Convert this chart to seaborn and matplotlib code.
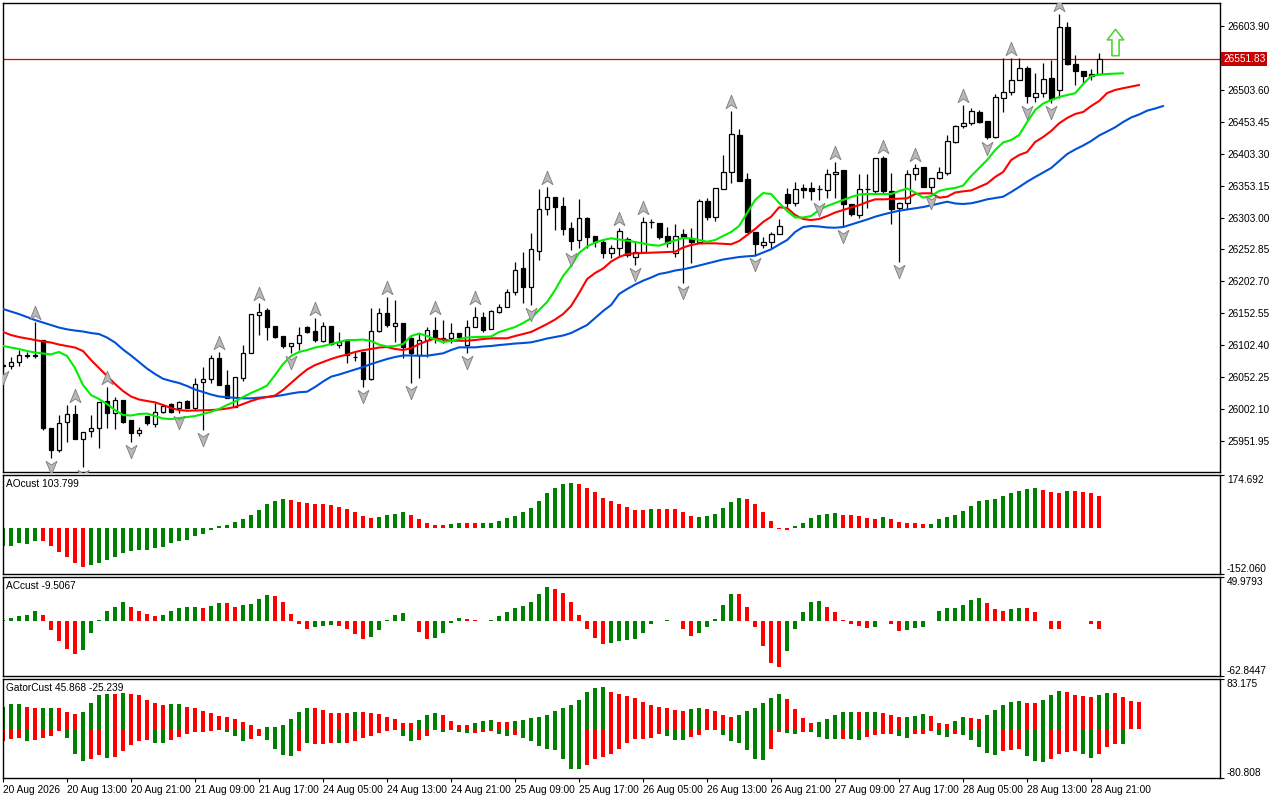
import numpy as np
import matplotlib
matplotlib.use("Agg")
import matplotlib.pyplot as plt
from matplotlib.path import Path
from matplotlib import transforms
import seaborn as sns

# ---------------- data ----------------
open_ = [
 26070.6, 26070.2, 26075.6, 26087.0, 26085.5, 26110.6, 25971.9, 25937.8, 25981.8, 25994.4,
 25955.1, 25967.7, 25972.4, 26014.8, 25995.9, 26016.4, 25985.0, 25964.5, 25991.7, 25978.6,
 25998.0, 26009.6, 26003.8, 26014.8, 26004.3, 26044.6, 26048.9, 26081.9, 26039.9, 26005.8,
 26050.4, 26090.7, 26149.9, 26157.7, 26132.6, 26116.9, 26101.2, 26106.4, 26131.5, 26124.7,
 26109.5, 26132.6, 26102.7, 26110.6, 26083.4, 26092.3, 26048.9, 26125.2, 26152.6, 26132.6,
 26137.8, 26113.3, 26087.0, 26110.6, 26126.3, 26113.8, 26113.3, 26121.1, 26102.7, 26130.6,
 26147.2, 26127.4, 26155.1, 26163.0, 26185.5, 26223.2, 26194.3, 26250.9, 26316.4, 26334.8,
 26321.1, 26286.1, 26267.7, 26301.8, 26274.0, 26265.0, 26246.8, 26254.7, 26268.8, 26241.5,
 26249.3, 26295.5, 26293.9, 26274.0, 26246.8, 26276.7, 26271.3, 26265.0, 26329.0, 26304.3,
 26347.4, 26374.1, 26432.7, 26363.5, 26280.7, 26259.9, 26265.0, 26277.1, 26339.5, 26326.3,
 26349.9, 26349.9, 26347.1, 26346.3, 26371.4, 26377.7, 26324.3, 26307.0, 26347.4, 26345.2,
 26396.0, 26345.2, 26317.5, 26325.4, 26371.4, 26381.9, 26351.5, 26364.6, 26373.4, 26422.1,
 26446.8, 26451.0, 26468.3, 26454.7, 26430.0, 26491.3, 26499.7, 26519.1, 26537.5, 26491.9,
 26499.1, 26521.7, 26503.4, 26602.8, 26543.7, 26533.7, 26528.0, 26528.5]
high = [
 26074.5, 26083.9, 26094.9, 26092.3, 26139.4, 26110.6, 25971.9, 25992.8, 26008.5, 26008.5,
 25966.6, 25992.8, 26013.2, 26037.2, 26021.1, 26016.4, 25985.0, 25974.4, 25991.7, 26011.6,
 26009.6, 26011.6, 26014.8, 26016.4, 26050.4, 26068.7, 26087.0, 26091.8, 26063.5, 26052.0,
 26102.7, 26151.0, 26168.3, 26160.4, 26132.6, 26116.9, 26106.4, 26131.5, 26132.6, 26144.7,
 26139.4, 26132.6, 26123.7, 26110.6, 26092.3, 26092.3, 26160.4, 26160.4, 26178.6, 26173.5,
 26137.8, 26115.8, 26121.1, 26131.5, 26147.2, 26142.0, 26137.8, 26122.1, 26142.0, 26162.0,
 26155.1, 26157.7, 26167.2, 26190.7, 26233.6, 26249.3, 26278.2, 26347.8, 26351.5, 26335.7,
 26334.8, 26296.5, 26332.1, 26304.3, 26274.0, 26268.8, 26259.9, 26287.0, 26272.9, 26265.0,
 26304.3, 26300.2, 26294.9, 26288.6, 26292.4, 26285.0, 26286.1, 26332.1, 26333.2, 26348.9,
 26401.2, 26470.8, 26441.6, 26372.5, 26280.7, 26272.9, 26280.7, 26300.2, 26349.9, 26359.3,
 26355.7, 26359.3, 26354.1, 26378.8, 26389.8, 26377.7, 26324.3, 26371.4, 26371.4, 26396.0,
 26399.7, 26372.5, 26327.9, 26377.7, 26387.1, 26381.9, 26364.6, 26382.9, 26432.7, 26448.4,
 26479.8, 26474.6, 26472.0, 26454.7, 26496.6, 26553.2, 26553.2, 26553.2, 26541.1, 26529.6,
 26546.2, 26550.5, 26622.8, 26610.7, 26558.3, 26533.7, 26535.9, 26562.0]
low = [
 26066.6, 26065.1, 26069.8, 26081.9, 26082.3, 25969.2, 25925.3, 25935.2, 25950.8, 25954.6,
 25911.6, 25958.7, 25941.0, 25971.9, 25970.8, 25980.2, 25950.8, 25960.3, 25977.1, 25974.4,
 25995.5, 25995.5, 25995.5, 26003.3, 26000.6, 25969.2, 26043.5, 26039.9, 26019.0, 26005.8,
 26046.2, 26089.7, 26118.5, 26110.6, 26113.3, 26097.6, 26089.7, 26094.9, 26121.1, 26107.9,
 26107.9, 26102.7, 26097.6, 26074.0, 26078.1, 26037.2, 26047.8, 26123.7, 26131.5, 26107.9,
 26081.9, 26042.6, 26050.4, 26084.4, 26105.4, 26105.4, 26105.4, 26113.3, 26089.7, 26130.6,
 26123.7, 26127.4, 26152.6, 26162.0, 26181.3, 26168.3, 26165.6, 26236.3, 26307.0, 26283.4,
 26275.6, 26252.0, 26254.7, 26254.7, 26257.2, 26239.0, 26239.0, 26243.0, 26241.5, 26228.4,
 26249.3, 26286.1, 26268.8, 26257.2, 26240.5, 26199.7, 26232.1, 26265.0, 26299.1, 26298.0,
 26347.4, 26356.8, 26360.9, 26280.7, 26244.1, 26254.7, 26254.7, 26277.1, 26320.0, 26321.1,
 26333.2, 26330.6, 26330.6, 26333.2, 26333.2, 26288.6, 26305.4, 26301.8, 26317.5, 26341.1,
 26341.1, 26292.8, 26233.6, 26315.9, 26362.0, 26351.5, 26342.0, 26363.1, 26369.8, 26420.6,
 26443.2, 26448.4, 26452.0, 26425.9, 26427.5, 26469.3, 26495.5, 26519.1, 26482.5, 26485.0,
 26492.8, 26482.5, 26490.3, 26542.2, 26511.2, 26514.8, 26519.1, 26528.5]
close = [
 26069.8, 26075.6, 26087.0, 26085.5, 26087.0, 25971.9, 25937.8, 25980.7, 25994.4, 25955.1,
 25966.6, 25972.4, 26013.2, 25995.9, 26016.4, 25982.3, 25964.5, 25969.2, 25979.7, 25998.0,
 26006.9, 25998.0, 26013.2, 26004.3, 26041.0, 26049.3, 26081.9, 26039.9, 26019.0, 26052.0,
 26089.7, 26151.0, 26155.1, 26131.5, 26115.8, 26101.2, 26106.4, 26118.5, 26123.7, 26110.6,
 26132.6, 26104.3, 26107.9, 26087.0, 26083.4, 26048.9, 26125.2, 26152.6, 26134.2, 26136.8,
 26099.1, 26089.7, 26110.6, 26126.3, 26113.3, 26113.0, 26121.1, 26115.8, 26130.6, 26147.2,
 26126.3, 26156.2, 26163.0, 26185.5, 26220.6, 26194.3, 26253.1, 26316.4, 26335.7, 26320.0,
 26284.5, 26266.6, 26301.8, 26272.9, 26265.0, 26246.8, 26254.7, 26281.8, 26244.1, 26248.4,
 26295.5, 26295.4, 26272.9, 26263.5, 26274.0, 26272.0, 26265.0, 26329.0, 26304.3, 26348.9,
 26374.1, 26434.2, 26360.9, 26280.7, 26261.0, 26265.0, 26277.1, 26289.7, 26326.3, 26347.4,
 26346.3, 26345.2, 26347.4, 26370.9, 26375.0, 26324.3, 26308.6, 26347.4, 26347.3, 26396.0,
 26345.2, 26315.9, 26325.4, 26371.4, 26380.4, 26351.5, 26364.6, 26375.0, 26423.2, 26446.8,
 26451.0, 26470.4, 26453.6, 26430.0, 26491.9, 26499.7, 26519.1, 26537.5, 26494.4, 26498.2,
 26520.2, 26488.7, 26602.8, 26543.7, 26533.7, 26525.8, 26525.3, 26551.83]

# Alligator lines (jaw blue, teeth red, lips green), extending past the last bar
jaw = [
 26159.3, 26155.4, 26151.4, 26146.7, 26142.0, 26138.1, 26134.2, 26130.2, 26127.4, 26125.5,
 26124.0, 26121.6, 26120.0, 26114.5, 26106.7, 26095.7, 26086.3, 26076.1, 26065.8, 26057.2,
 26049.8, 26046.2, 26043.1, 26038.4, 26032.9, 26028.9, 26025.0, 26021.9, 26020.8, 26019.8,
 26019.0, 26019.0, 26020.0, 26021.1, 26022.3, 26024.2, 26026.6, 26028.6, 26029.4, 26036.8,
 26045.4, 26053.0, 26056.4, 26060.3, 26064.3, 26068.2, 26072.9, 26076.8, 26080.8, 26083.9,
 26086.3, 26086.3, 26085.9, 26085.9, 26087.8, 26089.7, 26094.9, 26099.1, 26099.1, 26099.1,
 26100.4, 26101.2, 26102.7, 26103.8, 26105.1, 26105.9, 26107.0, 26109.8, 26113.0, 26115.3,
 26117.7, 26121.6, 26127.9, 26134.2, 26145.2, 26156.2, 26165.6, 26182.9, 26190.7, 26197.8,
 26203.8, 26208.8, 26214.3, 26216.6, 26219.8, 26221.7, 26224.5, 26227.7, 26230.8, 26233.9,
 26237.1, 26239.0, 26241.0, 26242.1, 26243.0, 26248.1, 26253.1, 26260.6, 26267.7, 26280.3,
 26288.1, 26289.7, 26288.9, 26287.4, 26287.0, 26288.1, 26292.1, 26296.0, 26299.9, 26304.3,
 26307.8, 26310.9, 26313.7, 26315.6, 26317.5, 26319.5, 26322.2, 26325.1, 26327.9, 26325.1,
 26324.3, 26325.4, 26328.2, 26331.6, 26333.7, 26335.7, 26343.1, 26351.0, 26359.3, 26366.7,
 26373.8, 26380.8, 26391.8, 26402.8, 26409.9, 26416.2, 26423.2, 26431.9, 26438.2, 26444.8,
 26453.1, 26460.2, 26464.9, 26470.9, 26474.3, 26478.2]
teeth = [
 26123.2, 26118.5, 26115.3, 26113.0, 26110.6, 26108.3, 26106.7, 26103.5, 26101.2, 26098.8,
 26093.3, 26079.2, 26066.6, 26054.1, 26041.5, 26030.5, 26021.9, 26017.2, 26014.8, 26012.7,
 26008.5, 26003.8, 26000.6, 25999.5, 25999.9, 26000.3, 26000.6, 26001.4, 26003.0, 26005.4,
 26010.1, 26014.8, 26018.7, 26021.1, 26023.4, 26032.1, 26043.1, 26054.1, 26064.3, 26071.3,
 26076.1, 26080.8, 26084.7, 26087.8, 26091.8, 26094.6, 26096.5, 26098.8, 26099.6, 26096.5,
 26094.9, 26097.6, 26104.3, 26109.0, 26113.0, 26111.4, 26109.5, 26109.5, 26109.5, 26110.6,
 26112.2, 26113.3, 26113.3, 26113.3, 26116.9, 26120.0, 26123.2, 26129.5, 26135.7, 26142.8,
 26151.4, 26164.0, 26184.4, 26206.4, 26215.9, 26222.9, 26233.9, 26241.0, 26245.7, 26246.8,
 26247.3, 26247.7, 26248.4, 26248.8, 26249.3, 26255.9, 26259.9, 26262.2, 26262.5, 26262.5,
 26261.7, 26261.0, 26266.1, 26275.6, 26285.0, 26296.0, 26304.3, 26319.1, 26318.0, 26307.0,
 26300.7, 26299.1, 26300.7, 26305.4, 26310.9, 26314.9, 26318.8, 26322.4, 26327.4, 26331.6,
 26331.6, 26332.1, 26332.6, 26333.2, 26340.0, 26341.1, 26341.1, 26334.2, 26335.7, 26342.3,
 26344.2, 26345.5, 26351.0, 26356.5, 26366.7, 26374.6, 26393.4, 26401.2, 26406.0, 26421.7,
 26429.5, 26439.0, 26451.0, 26459.4, 26465.7, 26468.8, 26478.2, 26486.1, 26498.6, 26503.4,
 26506.2, 26508.7, 26511.2]
lips = [
 26101.2, 26098.8, 26096.5, 26093.3, 26091.0, 26089.4, 26088.1, 26091.8, 26085.5, 26066.6,
 26039.9, 26024.2, 26017.9, 26010.1, 26000.6, 25992.8, 25992.0, 25994.4, 25995.1, 25991.2,
 25987.3, 25986.5, 25988.1, 25989.6, 25991.2, 25994.4, 25998.0, 26002.2, 26008.5, 26014.0,
 26021.1, 26027.4, 26032.9, 26039.1, 26055.6, 26072.9, 26085.5, 26091.8, 26094.9, 26098.8,
 26101.2, 26104.3, 26107.5, 26110.6, 26110.6, 26111.4, 26109.0, 26103.5, 26100.4, 26101.2,
 26104.3, 26116.9, 26120.8, 26116.9, 26111.4, 26107.5, 26109.0, 26112.2, 26114.5, 26115.3,
 26115.6, 26116.1, 26123.2, 26127.1, 26131.0, 26137.3, 26144.7, 26157.7, 26170.3, 26189.2,
 26211.2, 26226.9, 26247.3, 26257.5, 26263.8, 26267.7, 26270.4, 26268.5, 26266.9, 26264.6,
 26262.2, 26259.9, 26258.8, 26263.0, 26266.9, 26270.9, 26270.1, 26267.7, 26265.0, 26267.7,
 26274.0, 26280.3, 26289.7, 26310.1, 26330.6, 26341.5, 26340.0, 26325.9, 26313.3, 26303.1,
 26303.1, 26305.4, 26314.9, 26321.1, 26325.9, 26330.6, 26335.3, 26339.2, 26340.0, 26340.0,
 26340.0, 26340.0, 26344.7, 26348.6, 26342.3, 26334.2, 26336.8, 26344.7, 26347.8, 26349.4,
 26353.3, 26368.2, 26380.8, 26393.4, 26409.1, 26420.9, 26424.8, 26432.7, 26453.1, 26471.9,
 26482.1, 26487.6, 26492.4, 26495.5, 26498.2, 26512.8, 26525.4, 26527.4, 26528.5, 26529.1,
 26529.6]

# Fractals (bar indices)
fractal_up = [4, 9, 13, 27, 32, 39, 48, 54, 59, 68, 77, 80, 91, 104, 110, 114, 120, 126, 132]
fractal_down = [0, 6, 10, 16, 22, 25, 36, 45, 51, 58, 66, 71, 79, 85, 94, 102, 105, 112, 116,
                123, 128, 131]

# Awesome oscillator
ao = [
 -60.9, -58.7, -50.8, -53.0, -41.7, -41.9, -58.7, -79.0, -94.8, -115.1,
 -129.7, -123.0, -115.1, -106.0, -95.9, -81.2, -75.6, -73.3, -72.2, -67.7,
 -62.0, -50.8, -44.0, -38.4, -28.2, -20.3, -7.9, 5.6, 11.3, 20.3,
 29.3, 42.9, 59.8, 77.8, 90.2, 97.0, 93.6, 86.9, 81.2, 80.5,
 77.8, 77.2, 69.9, 62.0, 53.0, 40.6, 32.7, 36.1, 42.9, 46.2,
 54.1, 42.9, 29.3, 15.8, 9.0, 8.6, 12.4, 15.8, 15.5, 15.2,
 15.6, 16.0, 22.6, 32.7, 39.5, 53.0, 66.6, 90.2, 113.9, 130.8,
 144.4, 147.8, 144.4, 130.8, 117.3, 100.4, 90.2, 80.1, 69.9, 59.8,
 59.5, 63.2, 63.0, 62.8, 62.6, 53.0, 39.5, 36.1, 39.5, 46.2,
 66.6, 86.9, 100.4, 97.0, 80.1, 53.0, 22.6, -3.4, -6.8, 5.6,
 15.8, 32.7, 42.9, 46.2, 49.6, 42.9, 42.6, 39.5, 32.7, 29.3,
 36.1, 29.3, 19.2, 15.8, 15.5, 12.4, 12.6, 29.3, 36.1, 42.9,
 56.4, 73.3, 90.2, 93.6, 97.0, 103.8, 113.9, 120.7, 127.5, 130.8,
 124.1, 117.3, 113.9, 120.7, 120.4, 117.3, 113.9, 103.799]
ao_dir = ("GGGGG" "RRRRRR" "GGGGGGGGGGGGGGGGGGGGGGGGG" "RRRRRRRRRRR" "GGGG" "RRRRR"
          "GG" "RR" "GGGGGGGGGGGG" "RRRRRRRRR" "G" "RRRRR" "GGGGGG" "RRRRRR" "GGGGGG"
          "RRRRR" "G" "RRRRR" "GGGGGGGGGGGGGG" "RRR" "G" "RRRR")

# Accelerator oscillator
ac = [
 0.7, 3.3, 5.6, 6.3, 11.8, 6.3, -10.4, -23.3, -32.6, -38.1,
 -33.7, -14.1, 1.1, 11.8, 15.5, 21.1, 16.3, 11.8, 7.4, 5.2,
 6.3, 10.7, 14.4, 15.5, 16.3, 14.4, 17.4, 20.7, 20.0, 16.3,
 18.1, 19.2, 24.4, 29.6, 28.5, 21.8, 7.4, -3.3, -8.9, -6.7,
 -5.9, -4.8, -5.6, -9.3, -14.8, -20.4, -18.9, -10.4, 0.7, 6.3,
 8.9, -0.7, -12.2, -20.4, -20.0, -13.3, -2.2, 3.0, 1.9, 0.7,
 -0.4, 0.7, 5.2, 9.6, 14.1, 17.4, 21.8, 30.7, 38.5, 36.3,
 31.8, 21.8, 6.3, -8.9, -19.2, -25.9, -24.8, -22.6, -22.2, -20.4,
 -13.3, -3.3, -0.4, 0.7, -0.7, -8.9, -16.7, -13.3, -6.7, 1.9,
 18.5, 30.7, 30.3, 16.3, -6.7, -28.9, -47.7, -52.2, -34.4, -8.9,
 9.6, 21.8, 22.9, 16.3, 9.6, 0.7, -3.3, -5.6, -7.8, -6.7,
 -0.4, -3.3, -11.1, -10.0, -7.8, -6.7, 0.2, 10.7, 14.1, 14.4,
 18.5, 24.1, 26.3, 20.7, 13.0, 10.7, 13.0, 15.2, 14.1, 9.6,
 -0.7, -8.9, -9.3, -0.4, -0.2, -0.4, -3.3, -9.5067]
ac_dir = ("GGGGG" "RRRRR" "GGGGGG" "RRRR" "GGGGG" "R" "GG" "RR" "GGGG" "RRRRR" "GGG"
          "RRRR" "GGGGG" "RRR" "GGGG" "RRR" "GGGGGGGG" "RRRRRRR" "GGGGGGGG" "RRR" "GGGGG"
          "RRRRRR" "GGGGG" "RRRRRR" "GG" "RR" "GGGGGGGGGG" "RRR" "GG" "RRRRR" "GG" "RRR")

# Gator oscillator
gator_upper = [
 37.1, 41.0, 41.0, 37.1, 35.5, 35.5, 35.5, 34.4, 28.9, 24.6,
 27.8, 42.6, 57.3, 59.0, 59.0, 60.6, 59.0, 56.2, 49.1, 42.6,
 39.3, 41.0, 41.0, 37.1, 34.4, 29.5, 26.8, 22.4, 20.7, 16.4,
 12.6, 6.6, 0.5, 3.3, 3.3, 6.6, 16.4, 28.9, 34.4, 34.4,
 31.1, 26.8, 26.8, 26.8, 27.8, 27.8, 26.2, 24.6, 19.7, 16.4,
 10.9, 10.9, 14.7, 22.9, 26.2, 22.9, 13.1, 6.6, 6.6, 9.8,
 13.1, 14.7, 11.5, 11.5, 13.1, 14.7, 18.0, 19.7, 22.9, 29.5,
 34.4, 39.9, 49.1, 62.2, 68.8, 69.3, 62.2, 59.0, 55.7, 52.4,
 45.9, 39.3, 36.0, 34.4, 31.1, 30.6, 32.8, 34.4, 32.8, 29.5,
 22.9, 19.7, 22.9, 29.5, 34.4, 42.6, 52.4, 59.0, 50.8, 32.8,
 18.0, 9.8, 11.5, 16.4, 22.9, 27.8, 28.4, 27.8, 28.4, 28.9,
 26.2, 22.9, 19.7, 20.2, 21.3, 24.6, 21.3, 9.8, 8.2, 13.1,
 19.7, 18.0, 17.5, 22.9, 31.1, 39.3, 45.9, 47.5, 44.2, 43.7,
 49.1, 57.3, 63.9, 62.2, 57.3, 55.7, 54.1, 57.3, 60.6, 60.1,
 54.1, 47.5, 45.868]
gator_upper_dir = ("GGG" "RR" "GG" "RRR" "GGGG" "R" "G" "RRRRR" "GG" "RRRRRRRRRR" "GGGGGG"
                   "RRRRR" "G" "RRRRRRR" "GGG" "RRRR" "GGG" "RR" "GGGGGGGGGGGG" "RRRRRRRRRR"
                   "GG" "RRRR" "GGGGGG" "RRRR" "GGGGG" "R" "GG" "RRR" "GGG" "RRR" "GG" "RR"
                   "GGGGG" "RR" "GGG" "RRRR" "GG" "RRRR")
gator_lower = [
 -20.2, -16.4, -14.7, -19.1, -18.0, -14.7, -10.9, -2.7, -14.7, -40.4,
 -51.9, -49.1, -42.0, -47.5, -45.9, -35.5, -25.7, -19.1, -18.0, -22.9,
 -22.9, -18.0, -13.1, -8.2, -4.9, -3.8, -2.2, -1.6, -4.9, -10.9,
 -19.7, -15.8, -11.5, -18.0, -32.8, -42.0, -43.7, -36.6, -23.5, -24.6,
 -24.6, -23.5, -23.5, -23.5, -20.2, -14.7, -10.9, -6.6, -2.2, -1.6,
 -10.9, -19.1, -18.6, -10.9, -1.6, -4.4, -1.6, -4.4, -6.0, -5.5,
 -4.4, -2.7, -7.6, -10.9, -10.4, -14.2, -19.1, -27.3, -32.8, -34.4,
 -49.1, -65.5, -66.1, -59.0, -49.1, -45.3, -41.0, -32.8, -22.4, -16.4,
 -15.8, -14.7, -8.2, -10.9, -17.5, -18.0, -12.6, -9.3, -1.1, -0.5,
 -9.3, -19.1, -22.4, -34.4, -49.1, -50.8, -32.8, -4.4, -6.0, -8.2,
 -4.4, -4.9, -12.6, -15.8, -16.4, -15.8, -16.4, -17.5, -12.6, -9.3,
 -7.6, -7.1, -10.9, -14.2, -7.6, -7.1, -2.7, -9.3, -12.6, -7.6,
 -9.3, -17.5, -28.9, -38.8, -42.0, -35.5, -33.9, -33.3, -43.7, -51.9,
 -53.5, -49.1, -41.0, -37.1, -35.5, -41.0, -47.0, -41.0, -28.9, -24.0,
 -25.239]
gator_lower_dir = ("RRR" "G" "RRRR" "GGG" "RR" "G" "RRRRR" "GG" "RRRRRR" "GGGG" "RR" "GGGG"
                   "R" "G" "RRR" "G" "RRRRRRR" "GG" "RRR" "G" "R" "GG" "RRR" "GG" "R"
                   "GGGGGGGG" "RRRRRRRRRR" "GGG" "RRRR" "GGGGGG" "RR" "GG" "R" "GGGG" "R" "GG"
                   "RRRR" "GG" "RRR" "GG" "R" "GGGGG" "RRR" "GGG" "RRRR" "GG" "RRR" "G")

price_ticks = [26603.90, 26503.60, 26453.45, 26403.30, 26353.15, 26303.00, 26252.85,
               26202.70, 26152.55, 26102.40, 26052.25, 26002.10, 25951.95]
current_price = 26551.83
signal_bar = 139
signal_price = 26578.8
time_labels = ["20 Aug 2026", "20 Aug 13:00", "20 Aug 21:00", "21 Aug 09:00", "21 Aug 17:00",
               "24 Aug 05:00", "24 Aug 13:00", "24 Aug 21:00", "25 Aug 09:00", "25 Aug 17:00",
               "26 Aug 05:00", "26 Aug 13:00", "26 Aug 21:00", "27 Aug 09:00", "27 Aug 17:00",
               "28 Aug 05:00", "28 Aug 13:00", "28 Aug 21:00"]
time_label_bars = [0, 8, 16, 24, 32, 40, 48, 56, 64, 72, 80, 88, 96, 104, 112, 120, 128, 136]
ao_limits = (-152.060, 174.692)
ac_limits = (-62.8447, 49.9793)
gator_limits = (-80.808, 83.175)
main_limits = (25903.3, 26640.0)

# ---------------- style ----------------
sns.set_theme(style="white")
plt.rcParams["font.family"] = ["Liberation Sans", "DejaVu Sans"]
FS = 7.3
GREEN_H = "#008000"
RED_H = "#ff0000"

W, H = 1280, 800
fig = plt.figure(figsize=(W / 100, H / 100), dpi=100)
fig.patch.set_facecolor("white")

def rect(top, bottom, left=3, right=1220):
    return [left / W, 1 - bottom / H, (right - left) / W, (bottom - top) / H]

ax = fig.add_axes(rect(3, 472))
ax_ao = fig.add_axes(rect(475, 574), sharex=ax)
ax_ac = fig.add_axes(rect(577, 676), sharex=ax)
ax_g = fig.add_axes(rect(679, 778), sharex=ax)

for a in (ax, ax_ao, ax_ac, ax_g):
    a.set_facecolor("white")
    for s in a.spines.values():
        s.set_color("black")
        s.set_linewidth(1.0)
    a.grid(False)
    a.yaxis.tick_right()
    a.tick_params(axis="y", which="both", direction="out", length=3, width=0.8,
                  labelsize=FS, pad=2, colors="black", left=False, right=True)
    a.tick_params(axis="x", which="both", bottom=False, labelbottom=False)

# ---------------- main candles ----------------
o = np.array(open_); h = np.array(high); l = np.array(low); c = np.array(close)
xb = np.arange(len(o))
bull = c >= o
ax.vlines(xb, l, h, color="black", linewidth=0.9, zorder=2)
ax.bar(xb, np.abs(c - o), bottom=np.minimum(o, c), width=0.6,
       color=np.where(bull, "white", "black"), edgecolor="black", linewidth=0.9, zorder=3)

# Alligator lines
sns.lineplot(x=np.arange(len(jaw)), y=jaw, ax=ax, color="#0050d8", linewidth=1.5, zorder=4)
sns.lineplot(x=np.arange(len(teeth)), y=teeth, ax=ax, color="#ff0000", linewidth=1.5, zorder=4)
sns.lineplot(x=np.arange(len(lips)), y=lips, ax=ax, color="#00ee00", linewidth=1.5, zorder=4)

# Fractal arrows
up_path = Path([(0, 1), (0.75, -0.85), (0, -0.35), (-0.75, -0.85), (0, 1)],
               [Path.MOVETO, Path.LINETO, Path.LINETO, Path.LINETO, Path.CLOSEPOLY])
dn_path = Path([(0, -1), (0.75, 0.85), (0, 0.35), (-0.75, 0.85), (0, -1)],
               [Path.MOVETO, Path.LINETO, Path.LINETO, Path.LINETO, Path.CLOSEPOLY])
tr_up = transforms.offset_copy(ax.transData, fig=fig, x=0, y=9, units="dots")
tr_dn = transforms.offset_copy(ax.transData, fig=fig, x=0, y=-9, units="dots")
ax.plot(fractal_up, h[fractal_up], linestyle="none", marker=up_path, markersize=10.5,
        markerfacecolor="#b8b8b8", markeredgecolor="#7c7c7c", markeredgewidth=0.6,
        transform=tr_up, zorder=5)
ax.plot(fractal_down, l[fractal_down], linestyle="none", marker=dn_path, markersize=10.5,
        markerfacecolor="#b8b8b8", markeredgecolor="#7c7c7c", markeredgewidth=0.6,
        transform=tr_dn, zorder=5)

# Signal arrow
sig_path = Path([(0, 1), (0.62, 0.2), (0.27, 0.2), (0.27, -1), (-0.27, -1), (-0.27, 0.2),
                 (-0.62, 0.2), (0, 1)],
                [Path.MOVETO] + [Path.LINETO] * 6 + [Path.CLOSEPOLY])
ax.plot([signal_bar], [signal_price], linestyle="none", marker=sig_path, markersize=19,
        markerfacecolor="white", markeredgecolor="#55d43a", markeredgewidth=1.2, zorder=5)

# Current price line and label
ax.axhline(current_price, color="#e00000", linewidth=0.9, zorder=1)
blend = transforms.blended_transform_factory(ax.transAxes, ax.transData)
ax.text(1.0025, current_price, f"{current_price:.2f}", transform=blend, ha="left",
        va="center", fontsize=FS, color="white", zorder=6, clip_on=False,
        bbox=dict(boxstyle="square,pad=0.2", facecolor="#c80000", edgecolor="none"))

ax.set_xlim(0, 152.1)
ax.set_ylim(*main_limits)
ax.set_yticks(price_ticks)
ax.set_yticklabels([f"{v:.2f}" for v in price_ticks])
ax.set_xlabel(""); ax.set_ylabel("")

# ---------------- oscillators ----------------
def colors_from(d):
    return [GREEN_H if ch == "G" else RED_H for ch in d]

ax_ao.bar(np.arange(len(ao)), ao, width=0.55, color=colors_from(ao_dir), linewidth=0)
ax_ac.bar(np.arange(len(ac)), ac, width=0.55, color=colors_from(ac_dir), linewidth=0)
ax_g.bar(np.arange(len(gator_upper)), gator_upper, width=0.55,
         color=colors_from(gator_upper_dir), linewidth=0)
ax_g.bar(np.arange(len(gator_lower)), gator_lower, width=0.55,
         color=colors_from(gator_lower_dir), linewidth=0)

for a, lim, fmt, title in ((ax_ao, ao_limits, "{:.3f}", f"AOcust {ao[-1]:.3f}"),
                           (ax_ac, ac_limits, "{:.4f}", f"ACcust {ac[-1]:.4f}"),
                           (ax_g, gator_limits, "{:.3f}",
                            f"GatorCust {gator_upper[-1]:.3f} {gator_lower[-1]:.3f}")):
    a.set_ylim(*lim)
    a.set_yticks([lim[0], lim[1]])
    labs = a.set_yticklabels([fmt.format(lim[0]), fmt.format(lim[1])])
    labs[0].set_verticalalignment("bottom")
    labs[1].set_verticalalignment("top")
    a.text(0.0025, 0.955, title, transform=a.transAxes, ha="left", va="top",
           fontsize=FS, color="black")
    a.set_xlabel(""); a.set_ylabel("")

# time axis
ax_g.set_xticks(time_label_bars)
ax_g.set_xticklabels(time_labels, ha="left")
ax_g.tick_params(axis="x", bottom=True, labelbottom=True, direction="out", length=3,
                 width=0.8, labelsize=FS, pad=2, colors="black")
ax_g.set_xlim(0, 152.1)

fig.savefig("out.png", dpi=100, facecolor="white")
